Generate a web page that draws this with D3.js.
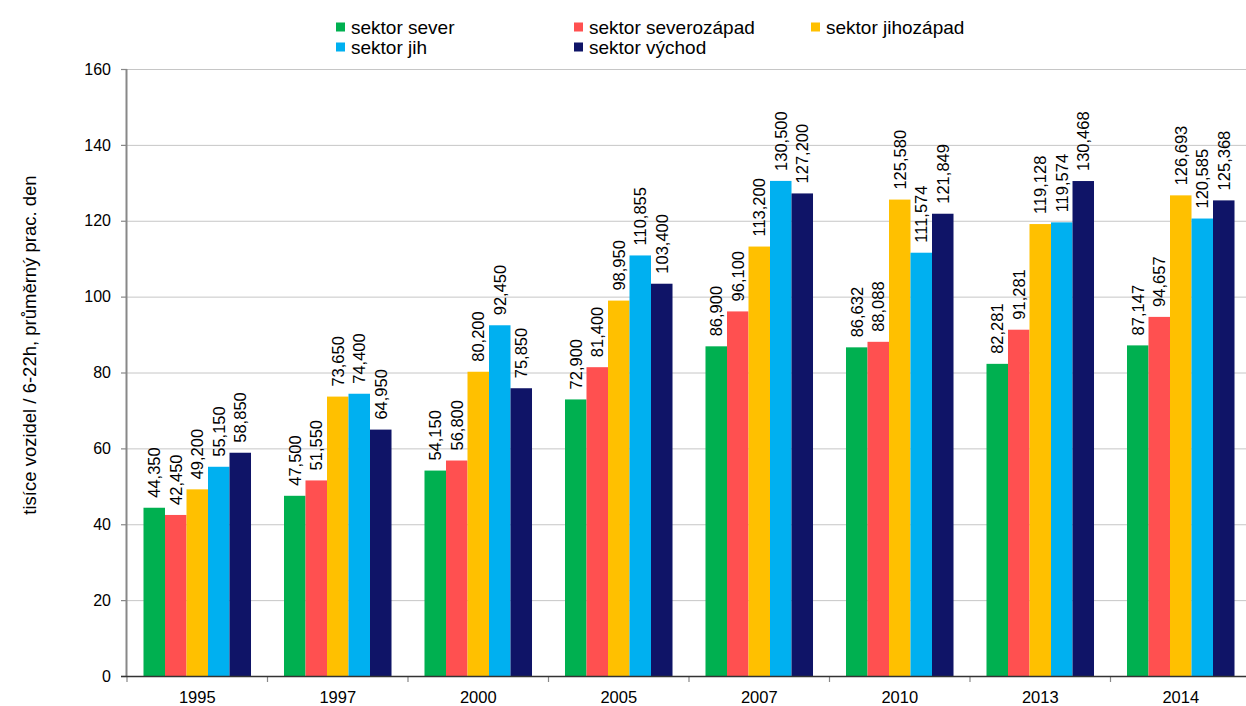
<!DOCTYPE html>
<html><head><meta charset="utf-8">
<script src="https://cdn.jsdelivr.net/npm/d3@7/dist/d3.min.js"></script>
<style>body{margin:0;background:#fff}svg{display:block;font-family:"Liberation Sans",Arial,sans-serif}</style>
</head><body><svg id="c" width="1246" height="706"></svg>
<script>
const years = ["1995","1997","2000","2005","2007","2010","2013","2014"];
const seriesNames = ["sektor sever","sektor severozápad","sektor jihozápad","sektor jih","sektor východ"];
const colors = ["#00B050","#FF5050","#FFC000","#00B0F0","#0F1467"];
const sever      = [44.350, 47.500, 54.150, 72.900, 86.900, 86.632, 82.281, 87.147];
const severozapad= [42.450, 51.550, 56.800, 81.400, 96.100, 88.088, 91.281, 94.657];
const jihozapad  = [49.200, 73.650, 80.200, 98.950, 113.200, 125.580, 119.128, 126.693];
const jih        = [55.150, 74.400, 92.450, 110.855, 130.500, 111.574, 119.574, 120.585];
const vychod     = [58.850, 64.950, 75.850, 103.400, 127.200, 121.849, 130.468, 125.368];
const yTicks = [0,20,40,60,80,100,120,140,160];
const yTitle = "tisíce vozidel / 6-22h, průměrný prac. den";

const series = [sever, severozapad, jihozapad, jih, vychod];
const svg = d3.select("#c");
const L = 127, R = 1251, T = 69, B = 676;
const x0 = d3.scaleBand().domain(years).range([L, R]).paddingInner(0).paddingOuter(0);
const x1 = d3.scaleBand().domain(d3.range(5)).range([0, x0.bandwidth()]).paddingInner(0).paddingOuter(0.767);
const y = d3.scaleLinear().domain([0,160]).range([B, T]);

// gridlines
svg.append("g").selectAll("line").data(yTicks.filter(d=>d>0)).join("line")
  .attr("x1", L).attr("x2", R).attr("y1", d=>y(d)+0.5).attr("y2", d=>y(d)+0.5)
  .attr("stroke", "#c6c6c6").attr("stroke-width", 1);

// bars
const fmt = d3.format(",");
const g = svg.append("g");
years.forEach((yr, i) => {
  series.forEach((s, j) => {
    const bx = x0(yr) + x1(j);
    g.append("rect").attr("x", bx).attr("y", y(s[i])).attr("width", x1.bandwidth()).attr("height", B - y(s[i]))
      .attr("fill", colors[j]);
    const cx = bx + x1.bandwidth()/2, ty = y(s[i]) - 10;
    g.append("text").attr("transform", `translate(${cx},${ty}) rotate(-90)`)
      .attr("dy", "0.36em").attr("font-size", 16.5).attr("fill", "#000")
      .text(fmt(Math.round(s[i]*1000)));
  });
});

// y axis
const ya = svg.append("g").attr("transform", `translate(${L},0)`)
  .call(d3.axisLeft(y).tickValues(yTicks).tickSize(6).tickPadding(10).tickFormat(d3.format("d")));
ya.select(".domain").attr("stroke", "#888").attr("d", `M-0.5,${T}V${B}`).attr("stroke-width",2);
ya.selectAll(".tick line").attr("stroke", "#888").attr("stroke-width",1.2);
ya.selectAll(".tick text").attr("font-size", 16).attr("fill", "#000").attr("font-family","Liberation Sans, Arial, sans-serif");

// x axis
const xa = svg.append("g").attr("transform", `translate(0,${B})`);
xa.selectAll("line.t").data(years.concat(["_end"])).join("line").attr("class","t")
  .attr("x1", (d,i)=> L + i*x0.step()).attr("x2", (d,i)=> L + i*x0.step())
  .attr("y1", 0).attr("y2", 6).attr("stroke", "#888").attr("stroke-width",1.2);
xa.append("line").attr("x1", L-6).attr("x2", R).attr("y1", 0.5).attr("y2", 0.5).attr("stroke", "#333").attr("stroke-width", 1.6);
xa.selectAll("text").data(years).join("text")
  .attr("x", d => x0(d) + x0.bandwidth()/2).attr("y", 27)
  .attr("text-anchor", "middle").attr("font-size", 16.5).attr("fill", "#000").text(d=>d);

// y title
svg.append("text").attr("transform", `translate(30,345) rotate(-90)`)
  .attr("text-anchor", "middle").attr("dy", "0.35em").attr("font-size", 18.5).text(yTitle);

// legend
const legPos = [[336,27],[574,27],[811,27],[336,47],[574,47]];
seriesNames.forEach((n, j) => {
  const [lx, ly] = legPos[j];
  svg.append("rect").attr("x", lx).attr("y", ly-4.5).attr("width", 9).attr("height", 9).attr("fill", colors[j]);
  svg.append("text").attr("x", lx + 15).attr("y", ly).attr("dy", "0.35em").attr("font-size", 19).text(n);
});
</script></body></html>
